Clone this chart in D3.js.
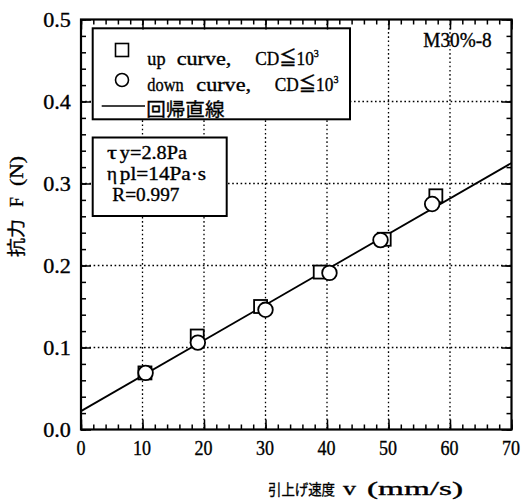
<!DOCTYPE html>
<html>
<head>
<meta charset="utf-8">
<script src="https://cdn.jsdelivr.net/npm/d3@7"></script>
<style>
  body { margin: 0; background: #fff; }
  text { fill: #000; stroke: #000; stroke-width: 0.35; }
</style>
</head>
<body>
<svg id="chart" width="525" height="500"></svg>
<script>
// ---- data ----
const speedTicks = [0, 10, 20, 30, 40, 50, 60, 70];
const speedTickLabels = ["0", "10", "20", "30", "40", "50", "60", "70"];
const forceTicks = [0, 0.1, 0.2, 0.3, 0.4, 0.5];
const forceTickLabels = ["0.0", "0.1", "0.2", "0.3", "0.4", "0.5"];

// up curve (squares)
const upSpeed = [10.4, 18.9, 29.2, 38.9, 49.3, 57.7];
const upForce = [0.069, 0.114, 0.150, 0.192, 0.232, 0.285];
// down curve (circles)
const downSpeed = [10.5, 19.0, 30.0, 40.4, 48.7, 57.1];
const downForce = [0.069, 0.106, 0.146, 0.191, 0.231, 0.275];
// regression line end points
const fitSpeed = [0, 70];
const fitForce = [0.0224, 0.325];

const legendTexts = ["up curve,  CD≦10", "down curve,  CD≦10", "回帰直線"];
const paramTexts = ["τ y=2.8Pa", "η pl=14Pa·s", "R=0.997"];

// ---- layout ----
const svg = d3.select("#chart");
const L = 81, R = 511.5, T = 19.5, B = 429.5;
const x = d3.scaleLinear().domain([0, 70]).range([L, R]);
const y = d3.scaleLinear().domain([0, 0.5]).range([B, T]);

const LAT = "'Liberation Serif', 'DejaVu Serif', 'Noto Sans CJK JP', serif";
const CJK = "'Noto Sans CJK JP', sans-serif";

// Fixed-pitch layout: a character takes one cell, a wide character two.
// Each word is drawn as one text fitted to the cells it occupies.
function isWide(c) {
  const k = c.codePointAt(0);
  return k >= 0x3000 || k === 0x2266;
}
function cellWidth(str) {
  return Array.from(str).reduce((s, c) => s + (isWide(c) ? 2 : 1), 0);
}
function word(parent, str, x0, yb, width, size, family) {
  return parent.append("text")
    .attr("x", x0).attr("y", yb)
    .attr("font-family", family || LAT).attr("font-size", size)
    .attr("textLength", width).attr("lengthAdjust", "spacingAndGlyphs")
    .text(str);
}
function mono(parent, str, x0, yb, unit, size, family, fill) {
  fill = fill || 0.93;
  let pos = 0;
  for (const part of str.split(/( +)/)) {
    if (!part) continue;
    const n = cellWidth(part);
    if (part.trim()) word(parent, part, x0 + pos * unit + unit * (1 - fill) / 2, yb, n * unit * fill, size, family);
    pos += n;
  }
  return x0 + pos * unit;
}
// "CD≦10" followed by a raised exponent, drawn as one text
function withExponent(parent, str, exp, x0, yb, unit, size) {
  const w = cellWidth(str) * unit * 0.93 + 9;
  const t = parent.append("text")
    .attr("x", x0 + unit * 0.035).attr("y", yb)
    .attr("font-family", LAT).attr("font-size", size)
    .attr("textLength", w).attr("lengthAdjust", "spacingAndGlyphs");
  t.append("tspan").text(str);
  t.append("tspan").attr("dy", -8).attr("font-size", 11).text(exp);
}

// ---- grid ----
const grid = svg.append("g")
  .attr("stroke", "#000").attr("stroke-width", 1.3)
  .attr("stroke-dasharray", "1.6,2.6");
grid.selectAll("line.vx").data(speedTicks.slice(1, -1)).join("line")
  .attr("x1", d => x(d)).attr("x2", d => x(d))
  .attr("y1", T).attr("y2", B);
grid.selectAll("line.hy").data(forceTicks.slice(1, -1)).join("line")
  .attr("x1", L).attr("x2", R)
  .attr("y1", d => y(d)).attr("y2", d => y(d));

// ---- regression line ----
svg.append("line")
  .attr("x1", x(fitSpeed[0])).attr("y1", y(fitForce[0]))
  .attr("x2", x(fitSpeed[1])).attr("y2", y(fitForce[1]))
  .attr("stroke", "#000").attr("stroke-width", 1.8);

// ---- markers ----
const sq = 13;
svg.append("g").selectAll("rect").data(upSpeed.map((v, i) => [v, upForce[i]])).join("rect")
  .attr("x", d => x(d[0]) - sq / 2).attr("y", d => y(d[1]) - sq / 2)
  .attr("width", sq).attr("height", sq)
  .attr("fill", "#fff").attr("stroke", "#000").attr("stroke-width", 1.8);
svg.append("g").selectAll("circle").data(downSpeed.map((v, i) => [v, downForce[i]])).join("circle")
  .attr("cx", d => x(d[0])).attr("cy", d => y(d[1])).attr("r", 7.3)
  .attr("fill", "#fff").attr("stroke", "#000").attr("stroke-width", 1.8);

// ---- legend box ----
const leg = svg.append("g");
leg.append("rect").attr("x", 92.7).attr("y", 28.3).attr("width", 257.3).attr("height", 91)
  .attr("fill", "#fff").attr("stroke", "#000").attr("stroke-width", 2);
leg.append("rect").attr("x", 115.5).attr("y", 43.5).attr("width", 13).attr("height", 13)
  .attr("fill", "#fff").attr("stroke", "#000").attr("stroke-width", 1.6);
leg.append("circle").attr("cx", 122).attr("cy", 80).attr("r", 6.5)
  .attr("fill", "#fff").attr("stroke", "#000").attr("stroke-width", 1.6);
leg.append("line").attr("x1", 101.7).attr("x2", 145).attr("y1", 106).attr("y2", 106)
  .attr("stroke", "#000").attr("stroke-width", 1.6);

const legendY = [65, 90.5];
[0, 1].forEach(i => {
  const [head, tail] = legendTexts[i].split(/(?=CD)/);
  const start = mono(leg, head, 147, legendY[i], 9.8, 19);
  withExponent(leg, tail, "3", start, legendY[i], 9.8, 19);
});
mono(leg, legendTexts[2], 146, 116, 10.2, 18.5, CJK, 0.96);

// ---- parameter box ----
const par = svg.append("g");
par.append("rect").attr("x", 92.7).attr("y", 137.5).attr("width", 134).attr("height", 78.5)
  .attr("fill", "#fff").attr("stroke", "#000").attr("stroke-width", 2);
const paramY = [159, 180, 201];
paramTexts.forEach((s, i) => {
  const parts = s.split(" ");
  if (parts.length === 2) {
    word(par, parts[0], 107, paramY[i], 10, 19);
    mono(par, parts[1], 119.5, paramY[i], 10.3, 19);
  } else {
    mono(par, s, 112, paramY[i], 10.3, 19);
  }
});

// ---- sample label ----
mono(svg, "M30%-8", 423, 47, 12, 20, LAT, 0.95);

// ---- frame and ticks ----
const minorX = d3.range(0, 70.01, 2);
const minorY = d3.range(0, 0.5001, 0.02);
function tickAxis(axis, transform) {
  const g = svg.append("g").attr("transform", transform).call(axis);
  g.select(".domain").remove();
  g.selectAll("text").remove();
  g.selectAll("line").attr("stroke", "#000").attr("stroke-width", 1.5);
}
tickAxis(d3.axisBottom(x).tickValues(minorX).tickSize(-5), `translate(0,${B})`);
tickAxis(d3.axisBottom(x).tickValues(speedTicks).tickSize(-10), `translate(0,${B})`);
tickAxis(d3.axisTop(x).tickValues(minorX).tickSize(-5), `translate(0,${T})`);
tickAxis(d3.axisTop(x).tickValues(speedTicks).tickSize(-10), `translate(0,${T})`);
tickAxis(d3.axisLeft(y).tickValues(minorY).tickSize(-5), `translate(${L},0)`);
tickAxis(d3.axisLeft(y).tickValues(forceTicks).tickSize(-10), `translate(${L},0)`);
tickAxis(d3.axisRight(y).tickValues(minorY).tickSize(-5), `translate(${R},0)`);
tickAxis(d3.axisRight(y).tickValues(forceTicks).tickSize(-10), `translate(${R},0)`);

svg.append("rect").attr("x", L).attr("y", T).attr("width", R - L).attr("height", B - T)
  .attr("fill", "none").attr("stroke", "#000").attr("stroke-width", 2.2);

// ---- tick labels ----
const tl = svg.append("g");
speedTicks.forEach((d, i) => {
  const s = speedTickLabels[i];
  mono(tl, s, x(d) - cellWidth(s) * 10 / 2, 455, 10, 20, LAT, 0.9);
});
forceTicks.forEach((d, i) => {
  const s = forceTickLabels[i];
  mono(tl, s, 72 - cellWidth(s) * 9.7, y(d) + 7, 9.7, 20, LAT, 0.95);
});

// ---- axis titles ----
word(svg, "引上げ速度", 268, 495, 67, 15, CJK);
word(svg, "v", 343, 495, 13, 19);
word(svg, "(mm/s)", 367, 495, 96, 19);

const yt = svg.append("g").attr("transform", "translate(23,257) rotate(-90)");
word(yt, "抗力", 0, 0, 38, 18, CJK);
word(yt, "F", 50, 0, 10, 19);
word(yt, "(N)", 71, 0, 30, 19);
</script>
</body>
</html>
